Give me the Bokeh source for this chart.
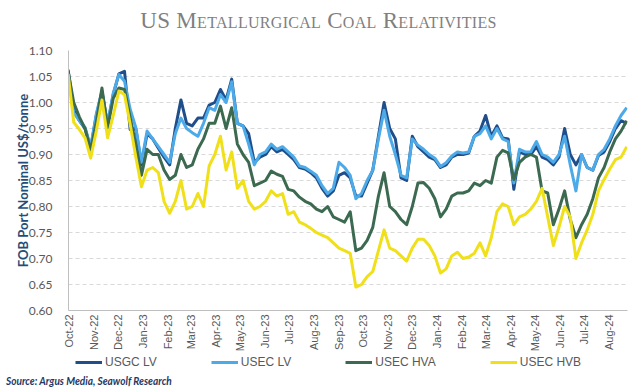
import numpy as np
import pandas as pd
from bokeh.plotting import figure
from bokeh.models import (Range1d, FixedTicker, DatetimeTickFormatter, NumeralTickFormatter,
                          Legend, LegendItem, Div)
from bokeh.layouts import column
from bokeh.embed import file_html
from bokeh.resources import INLINE

# ---------------- data (weekly) ----------------
dates = pd.date_range("2022-09-30", periods=100, freq="7D")

usgc_lv = [1.063, 0.985, 0.965, 0.950, 0.912, 0.975, 1.020, 0.958, 1.015, 1.055,
           1.060, 0.948, 0.950, 0.880, 0.940, 0.930, 0.912, 0.895, 0.880, 0.950,
           1.005, 0.960, 0.955, 0.970, 0.970, 0.995, 1.000, 1.025, 1.005, 1.045,
           0.960, 0.955, 0.940, 0.885, 0.895, 0.900, 0.915, 0.905, 0.910, 0.900,
           0.890, 0.875, 0.872, 0.865, 0.855, 0.835, 0.820, 0.830, 0.860, 0.865,
           0.855, 0.820, 0.820, 0.845, 0.870, 0.935, 1.000, 0.950, 0.930, 0.855,
           0.850, 0.935, 0.915, 0.905, 0.895, 0.890, 0.875, 0.880, 0.895, 0.900,
           0.900, 0.903, 0.935, 0.945, 0.975, 0.935, 0.955, 0.932, 0.930, 0.833,
           0.905, 0.900, 0.900, 0.915, 0.895, 0.890, 0.880, 0.895, 0.950, 0.900,
           0.880, 0.900, 0.875, 0.870, 0.898, 0.905, 0.925, 0.950, 0.965, 0.960]

usec_lv = [1.055, 0.980, 0.965, 0.952, 0.915, 0.978, 1.022, 0.958, 1.018, 1.054,
           1.041, 0.987, 0.952, 0.885, 0.945, 0.930, 0.915, 0.900, 0.885, 0.940,
           0.970, 0.950, 0.942, 0.935, 0.960, 0.990, 0.985, 1.015, 1.000, 1.040,
           0.960, 0.955, 0.920, 0.880, 0.900, 0.905, 0.920, 0.910, 0.915, 0.905,
           0.895, 0.878, 0.875, 0.868, 0.860, 0.840, 0.825, 0.835, 0.885, 0.875,
           0.860, 0.815, 0.825, 0.850, 0.870, 0.930, 0.985, 0.935, 0.900, 0.860,
           0.855, 0.930, 0.918, 0.910, 0.900, 0.893, 0.877, 0.884, 0.897, 0.905,
           0.903, 0.905, 0.935, 0.940, 0.955, 0.930, 0.950, 0.930, 0.925, 0.845,
           0.910, 0.905, 0.905, 0.925, 0.900, 0.895, 0.885, 0.900, 0.935, 0.880,
           0.830, 0.900, 0.875, 0.870, 0.900, 0.910, 0.930, 0.955, 0.975, 0.990]

usec_hva = [1.060, 1.000, 0.972, 0.950, 0.908, 0.962, 1.028, 0.951, 1.008, 1.028,
            1.025, 0.971, 0.920, 0.860, 0.910, 0.900, 0.900, 0.870, 0.852, 0.860,
            0.900, 0.875, 0.880, 0.910, 0.930, 0.960, 0.960, 0.993, 0.950, 0.990,
            0.920, 0.900, 0.885, 0.840, 0.845, 0.850, 0.868, 0.862, 0.858, 0.833,
            0.830, 0.818, 0.810, 0.805, 0.795, 0.790, 0.800, 0.780, 0.775, 0.770,
            0.790, 0.715, 0.720, 0.735, 0.760, 0.820, 0.865, 0.800, 0.790, 0.775,
            0.765, 0.800, 0.845, 0.846, 0.835, 0.815, 0.780, 0.795, 0.820, 0.826,
            0.826, 0.830, 0.845, 0.840, 0.850, 0.845, 0.895, 0.908, 0.903, 0.852,
            0.885, 0.895, 0.900, 0.895, 0.830, 0.826, 0.765, 0.795, 0.830, 0.775,
            0.740, 0.765, 0.785, 0.815, 0.855, 0.875, 0.905, 0.930, 0.945, 0.965]

usec_hvb = [1.055, 0.962, 0.948, 0.932, 0.893, 0.945, 1.005, 0.932, 0.975, 1.022,
            1.015, 0.958, 0.895, 0.838, 0.870, 0.875, 0.865, 0.810, 0.787, 0.810,
            0.850, 0.795, 0.800, 0.825, 0.800, 0.878, 0.900, 0.935, 0.870, 0.905,
            0.835, 0.850, 0.810, 0.795, 0.800, 0.810, 0.830, 0.820, 0.825, 0.785,
            0.790, 0.770, 0.765, 0.758, 0.750, 0.745, 0.740, 0.730, 0.720, 0.715,
            0.710, 0.645, 0.650, 0.665, 0.675, 0.715, 0.755, 0.720, 0.715, 0.705,
            0.695, 0.720, 0.737, 0.737, 0.725, 0.705, 0.672, 0.680, 0.705, 0.712,
            0.700, 0.703, 0.710, 0.730, 0.705, 0.740, 0.790, 0.805, 0.800, 0.765,
            0.780, 0.785, 0.795, 0.810, 0.835, 0.780, 0.725, 0.760, 0.800, 0.780,
            0.700, 0.730, 0.755, 0.785, 0.830, 0.852, 0.872, 0.890, 0.895, 0.915]

series_names = ["USGC LV", "USEC LV", "USEC HVA", "USEC HVB"]
series_values = [usgc_lv, usec_lv, usec_hva, usec_hvb]
series_colors = ["#1F4E8A", "#4DAAE8", "#3B6A50", "#F0E01A"]

month_ticks = pd.date_range("2022-10-01", "2024-08-01", freq="MS")
y_ticks = [0.60, 0.65, 0.70, 0.75, 0.80, 0.85, 0.90, 0.95, 1.00, 1.05, 1.10]

TITLE = "US Metallurgical Coal Relativities"
Y_LABEL = "FOB Port Nominal US$/tonne"
SOURCE = "Source: Argus Media, Seawolf Research"

W = 637

# ---------------- title ----------------
title_div = Div(
    text=('<div style="width:637px;height:40px;text-align:center;'
          'font-family:\'Liberation Serif\',serif;font-variant:small-caps;font-size:23px;'
          'color:#7F7F7F;line-height:42px;letter-spacing:0.3px;white-space:nowrap;">'
          + TITLE + '</div>'),
    width=W, height=40, margin=(0, 0, 0, 0))

# ---------------- main chart ----------------
p = figure(width=W, height=315, x_axis_type="datetime",
           output_backend="svg", toolbar_location=None,
           x_range=Range1d(pd.Timestamp("2022-09-30 12:00"), pd.Timestamp("2024-08-24")),
           y_range=Range1d(0.60, 1.10),
           min_border_left=68, min_border_right=10, min_border_top=10, min_border_bottom=45)
p.outline_line_color = None
p.background_fill_color = "white"
p.border_fill_color = "white"

for name, vals, col in zip(series_names, series_values, series_colors):
    p.line(dates, vals, line_color=col, line_width=3, line_join="round")

p.yaxis.ticker = FixedTicker(ticks=y_ticks)
p.yaxis.formatter = NumeralTickFormatter(format="0.00")
p.yaxis.major_tick_line_color = None
p.yaxis.major_tick_out = 0
p.yaxis.major_tick_in = 0
p.yaxis.minor_tick_line_color = None
p.yaxis.minor_tick_out = 0
p.yaxis.axis_line_color = "#BFBFBF"
p.yaxis.major_label_text_font = "Lato"
p.yaxis.major_label_text_font_size = "12px"
p.yaxis.major_label_text_color = "#595959"
p.yaxis.major_label_standoff = 16
p.yaxis.axis_label = Y_LABEL
p.yaxis.axis_label_text_font = "Lato"
p.yaxis.axis_label_text_font_style = "bold"
p.yaxis.axis_label_text_font_size = "13px"
p.yaxis.axis_label_text_color = "#1F4E79"
p.yaxis.axis_label_standoff = -5

p.xaxis.ticker = FixedTicker(ticks=[t.value // 10**6 for t in month_ticks])
fmt = "%b-%y"
p.xaxis.formatter = DatetimeTickFormatter(days=fmt, months=fmt, years=fmt, hours=fmt,
                                          minutes=fmt, seconds=fmt, milliseconds=fmt,
                                          microseconds=fmt, hourmin=fmt, minsec=fmt)
p.xaxis.major_label_orientation = np.pi / 2
p.xaxis.major_tick_line_color = None
p.xaxis.major_tick_out = 0
p.xaxis.major_tick_in = 0
p.xaxis.minor_tick_line_color = None
p.xaxis.minor_tick_out = 0
p.xaxis.axis_line_color = "#BFBFBF"
p.xaxis.major_label_text_font = "Liberation Sans"
p.xaxis.major_label_text_font_size = "11px"
p.xaxis.major_label_text_color = "#595959"
p.xaxis.major_label_standoff = 4

p.xgrid.grid_line_color = None
p.ygrid.ticker = FixedTicker(ticks=y_ticks)
p.ygrid.grid_line_color = "#D9D9D9"
p.ygrid.grid_line_dash = "4 3"
p.ygrid.grid_line_width = 1

# ---------------- legend strip (frame aligned with the chart frame) ----------------
LH = 18
q = figure(width=W, height=LH, output_backend="svg", toolbar_location=None,
           x_range=Range1d(0, 1), y_range=Range1d(0, 1),
           x_axis_location=None, y_axis_location=None,
           min_border_left=0, min_border_right=0, min_border_top=0, min_border_bottom=0)
q.outline_line_color = None
q.xgrid.grid_line_color = None
q.ygrid.grid_line_color = None
q.background_fill_color = "white"
q.border_fill_color = "white"

key_renderers = [q.line(x=[np.nan, np.nan], y=[np.nan, np.nan], line_color=c, line_width=3)
                 for c in series_colors]
legend = Legend(items=[LegendItem(label=n, renderers=[r]) for n, r in zip(series_names, key_renderers)],
                orientation="horizontal", location=(7, 4),
                spacing=54, glyph_width=27, glyph_height=12, label_standoff=3,
                label_text_font="Liberation Sans", label_text_font_size="12px",
                label_text_color="#595959", border_line_color=None,
                background_fill_alpha=0, padding=0, margin=0)
q.add_layout(legend, "center")

# ---------------- source note ----------------
src_div = Div(
    text=('<div style="height:15px;line-height:15px;margin-left:6px;white-space:nowrap;'
          'font-family:Lato,sans-serif;font-weight:bold;font-style:italic;font-size:12px;'
          'color:#1F3864;transform:scaleX(0.84);transform-origin:left center;">'
          + SOURCE + '</div>'),
    width=W, height=15, margin=(0, 0, 0, 0))

layout = column(title_div, p, q, src_div, spacing=0)
open("out.html", "w").write(file_html(layout, INLINE))
